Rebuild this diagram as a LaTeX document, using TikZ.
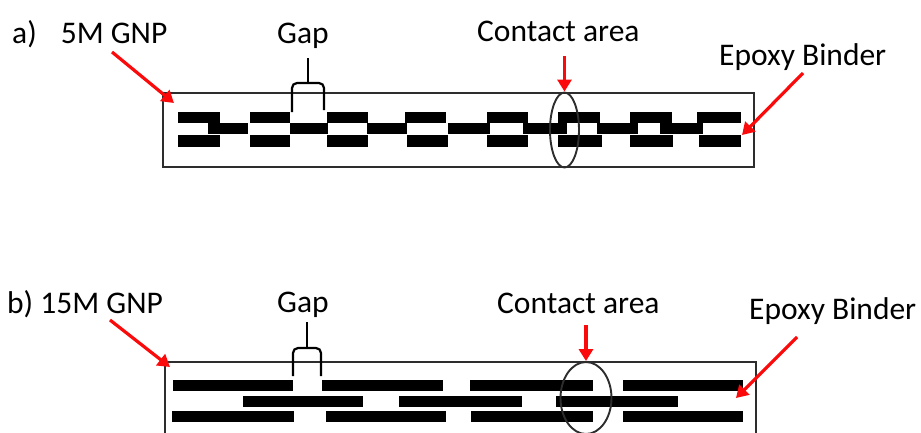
\documentclass[tikz,border=0pt]{standalone}
\usepackage{fontspec}
\setmainfont{Carlito}
\usetikzlibrary{arrows.meta,shapes.geometric}
\definecolor{arrowred}{RGB}{250,10,10}
\definecolor{framegray}{RGB}{45,45,45}
\tikzset{
  note-text/.style={
    font=\fontsize{31.5}{38}\selectfont,
    inner sep=0pt,
    anchor=base west
  },
  matrix-frame/.style={draw=framegray, line width=1.9pt},
  flake/.style={fill=black},
  pointer/.style={draw=arrowred, line width=3.2pt, -{Triangle[length=12pt,width=14pt]}},
  gap-brace/.style={draw=black, line width=2.2pt, rounded corners=5pt},
  contact-ring/.style={ellipse, draw=framegray, line width=1.9pt, inner sep=0pt}
}

\begin{document}
\begin{tikzpicture}[x=1pt,y=-1pt]
  \useasboundingbox (0,0) rectangle (921,432);
  % Panel a: 5M GNP
  \node[note-text] (gnpA) at (12,43) {a)\hspace{24pt}5M GNP};
  \node[note-text] (gapA) at (277,43) {Gap};
  \node[note-text] (contactA) at (477,41) {Contact area};
  \node[note-text] (epoxyA) at (719,65) {Epoxy Binder};
  \draw[matrix-frame] (163,93) rectangle (754,167);
  \foreach \xa/\xb in {178/220,250/290,327/368,405/446,487/528,558/600,630/672,697/741}
    \fill[flake] (\xa,111.5) rectangle (\xb,122.5);
  \foreach \xa/\xb in {208/248,290/328,367/407,448/490,523/567,597/638,660/703}
    \fill[flake] (\xa,122.5) rectangle (\xb,134);
  \foreach \xa/\xb in {178/220,250/290,327/368,407/448,487/528,558/602,630/673,699/741}
    \fill[flake] (\xa,135) rectangle (\xb,146.5);
  \node[contact-ring, minimum width=29pt, minimum height=75pt] (ringA) at (564.5,130) {};
  \draw[gap-brace] (292,112) |- (308,83) -| (324,110);
  \draw[gap-brace] (308,83) -- (308,58);
  % Pointers a
  \coordinate (gnpAfrom) at (112,52);
  \coordinate (gnpAto) at (174,103);
  \coordinate (contactAfrom) at (564.5,56);
  \coordinate (epoxyAfrom) at (803,73);
  \coordinate (epoxyAto) at (742,135);
  \draw[pointer] (gnpAfrom) -- (gnpAto);
  \draw[pointer] (contactAfrom) -- (ringA.north);
  \draw[pointer] (epoxyAfrom) -- (epoxyAto);
  % Panel b: 15M GNP
  \node[note-text] (gnpB) at (7,313) {b) 15M GNP};
  \node[note-text] (gapB) at (277,312) {Gap};
  \node[note-text] (contactB) at (497,313) {Contact area};
  \node[note-text] (epoxyB) at (749,319) {Epoxy Binder};
  \draw[matrix-frame] (165,362) rectangle (756,470);
  \foreach \xa/\xb in {173/293,322/443,470/593,623/743}
    \fill[flake] (\xa,380) rectangle (\xb,391);
  \foreach \xa/\xb in {243/363,399/522,556/678}
    \fill[flake] (\xa,396) rectangle (\xb,407);
  \foreach \xa/\xb in {172/294,326/446,471/593,623/743}
    \fill[flake] (\xa,411) rectangle (\xb,422);
  \node[contact-ring, minimum width=51pt, minimum height=72pt] (ringB) at (586,398) {};
  \draw[gap-brace] (293,376) |- (307,348) -| (321,376);
  \draw[gap-brace] (307,348) -- (307,322);
  % Pointers b
  \coordinate (gnpBfrom) at (110,320);
  \coordinate (gnpBto) at (170,367);
  \coordinate (contactBfrom) at (586,325);
  \coordinate (epoxyBfrom) at (797,337);
  \coordinate (epoxyBto) at (736,398);
  \draw[pointer] (gnpBfrom) -- (gnpBto);
  \draw[pointer] (contactBfrom) -- (ringB.north);
  \draw[pointer] (epoxyBfrom) -- (epoxyBto);
\end{tikzpicture}
\end{document}
